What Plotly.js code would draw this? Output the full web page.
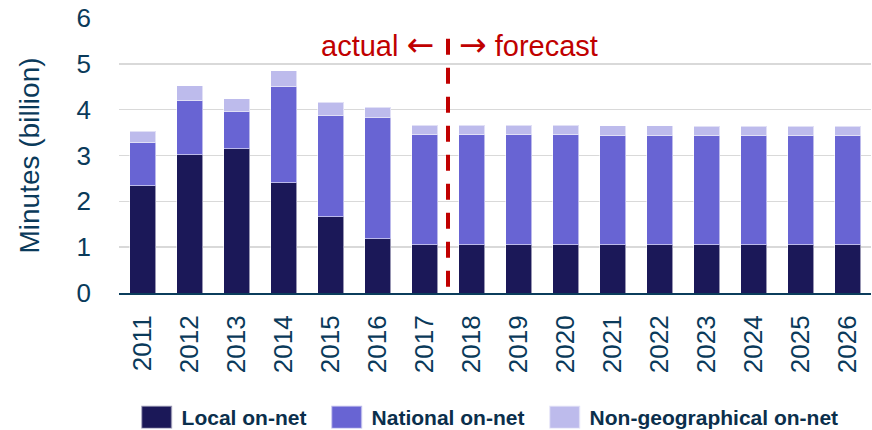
<!DOCTYPE html>
<html>
<head>
<meta charset="utf-8">
<script src="https://cdn.plot.ly/plotly-3.0.1.min.js"></script>
<style>
  html, body { margin: 0; padding: 0; background: #ffffff; }
  #chart { width: 872px; height: 430px; }
  .legendpoints path { transform: translate(15px, 0px) scale(2.6, 1.9); }
</style>
</head>
<body>
<div id="chart"></div>
<script>
const years = ["2011","2012","2013","2014","2015","2016","2017","2018","2019","2020","2021","2022","2023","2024","2025","2026"];
const localOnNet = [2.34,3.02,3.15,2.41,1.66,1.18,1.05,1.05,1.05,1.05,1.05,1.05,1.05,1.05,1.05,1.05];
const nationalOnNet = [0.94,1.19,0.82,2.09,2.22,2.66,2.41,2.40,2.40,2.40,2.39,2.38,2.38,2.38,2.38,2.38];
const nonGeoOnNet = [0.25,0.31,0.27,0.35,0.28,0.21,0.20,0.21,0.21,0.21,0.21,0.22,0.21,0.21,0.21,0.21];
const seriesNames = ["Local on-net","National on-net","Non-geographical on-net"];
const seriesColors = ["#1B1858","#6864D3","#BDBBEC"];
const yTicks = [0,1,2,3,4,5,6];
const labelActual = "actual";
const labelForecast = "forecast";
const arrowLeft = "\u2190";
const arrowRight = "\u2192";
const splitIndex = 6.5;

const FONT = "Liberation Sans, Arial, sans-serif";
const ARROWFONT = "DejaVu Sans";
const TXT = "#0A3A5A";
const RED = "#C00000";

const legendIds = ["legend", "legend2", "legend3"];
const legendX = [0.030, 0.2827, 0.5726];

const seriesValues = [localOnNet, nationalOnNet, nonGeoOnNet];
const traces = seriesValues.map((vals, i) => ({
  type: "bar",
  name: seriesNames[i],
  x: years,
  y: vals,
  legend: legendIds[i],
  marker: { color: seriesColors[i], line: { color: "rgba(255,255,255,0.55)", width: 1 } },
  hoverinfo: "x+y+name"
}));

function legendSpec(x) {
  return {
    orientation: "h",
    x: x,
    xanchor: "left",
    yref: "container",
    y: 0.029,
    yanchor: "middle",
    bgcolor: "rgba(0,0,0,0)",
    borderwidth: 0,
    font: { family: FONT, size: 21, color: "#0B2F4C", weight: "bold" },
    itemclick: false
  };
}

const arrowSpan = a => '<span style="font-family:' + ARROWFONT + ';font-size:33px">' + a + '</span>';

const layout = {
  width: 872,
  height: 430,
  barmode: "stack",
  bargap: 0.447,
  margin: { l: 119, r: 1, t: 18, b: 137, pad: 0 },
  paper_bgcolor: "#ffffff",
  plot_bgcolor: "#ffffff",
  font: { family: FONT, color: TXT },
  showlegend: true,
  legend: legendSpec(legendX[0]),
  legend2: legendSpec(legendX[1]),
  legend3: legendSpec(legendX[2]),
  xaxis: {
    type: "category",
    tickangle: -90,
    tickfont: { family: FONT, size: 26, color: TXT },
    ticks: "",
    ticklabelstandoff: 10,
    showgrid: false,
    showline: true,
    linecolor: "#0B3D5C",
    linewidth: 2,
    zeroline: false,
    automargin: false
  },
  yaxis: {
    range: [0, 6],
    tickvals: yTicks,
    ticktext: yTicks.map(String),
    tickfont: { family: FONT, size: 26, color: TXT },
    ticks: "",
    ticklabelstandoff: 27,
    showgrid: true,
    gridcolor: "#D9D9D9",
    gridwidth: 1.5,
    zeroline: false,
    showline: false,
    automargin: false,
    title: { text: "Minutes (billion)", font: { family: FONT, size: 28, color: TXT }, standoff: 28 }
  },
  shapes: [{
    type: "line",
    xref: "x",
    yref: "y",
    x0: splitIndex, x1: splitIndex,
    y0: 5.55, y1: 0.06,
    line: { color: RED, width: 4, dash: "16px,13px" }
  }],
  annotations: [
    {
      xref: "x", yref: "y", x: splitIndex, y: 5.42,
      text: labelActual + ' ' + arrowSpan(arrowLeft),
      showarrow: false, xanchor: "right", yanchor: "middle", xshift: -12,
      font: { family: FONT, size: 29, color: RED }
    },
    {
      xref: "x", yref: "y", x: splitIndex, y: 5.42,
      text: arrowSpan(arrowRight) + ' ' + labelForecast,
      showarrow: false, xanchor: "left", yanchor: "middle", xshift: 9,
      font: { family: FONT, size: 29, color: RED }
    }
  ]
};

Plotly.newPlot("chart", traces, layout, { displayModeBar: false, staticPlot: true });
</script>
</body>
</html>
